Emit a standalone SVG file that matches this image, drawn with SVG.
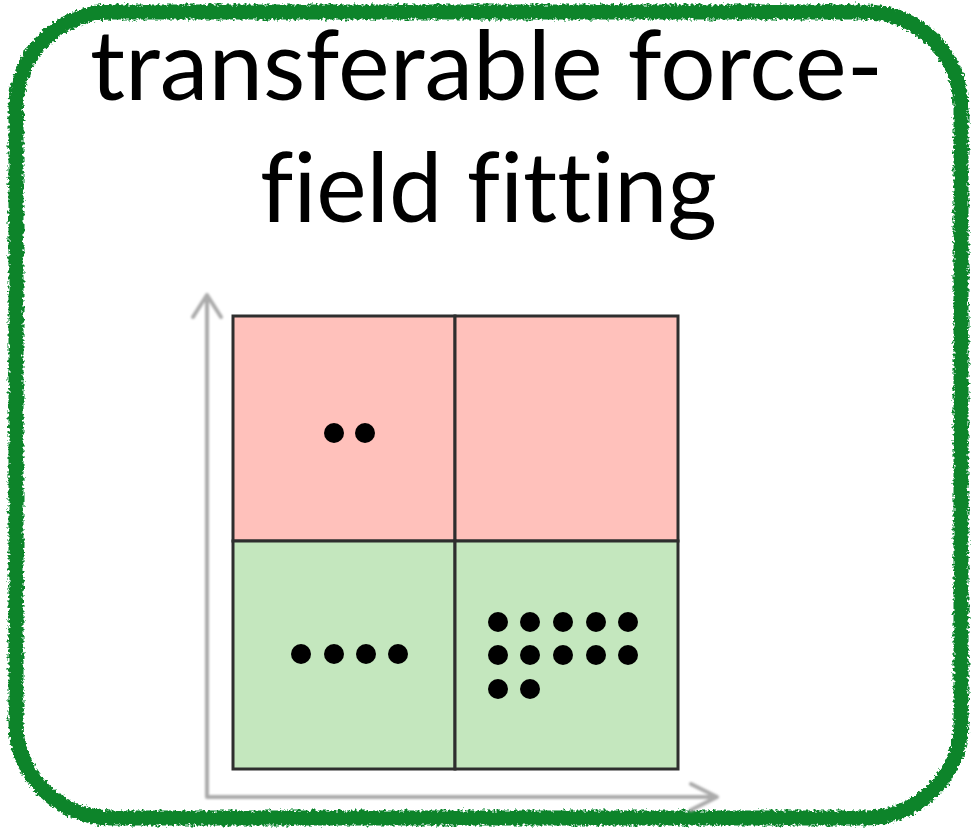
<svg xmlns="http://www.w3.org/2000/svg" width="971" height="834" viewBox="0 0 971 834">
  <defs>
    <filter id="rough" x="-5%" y="-5%" width="110%" height="110%">
      <feTurbulence type="fractalNoise" baseFrequency="0.35" numOctaves="2" seed="3" result="n"/>
      <feDisplacementMap in="SourceGraphic" in2="n" scale="7" xChannelSelector="R" yChannelSelector="G"/>
    </filter>
    <filter id="soft" x="-5%" y="-5%" width="110%" height="110%">
      <feGaussianBlur stdDeviation="0.8"/>
    </filter>
  </defs>
  <style>
    .title { font-family: "Lato", "Liberation Sans", sans-serif; font-size: 96px; fill: #000; font-variant-ligatures: none; font-feature-settings: "liga" 0, "clig" 0; }
    .axis { fill: none; stroke: #ABABAB; stroke-width: 4; stroke-linecap: round; stroke-linejoin: round; }
    .cell { stroke: #2E2E2E; stroke-width: 3; }
    .red { fill: #FFC1BB; }
    .green { fill: #C4E7BE; }
    .dot { fill: #000; }
  </style>
  <rect width="971" height="834" fill="#FFFFFF"/>
  <g id="frame">
    <rect x="16" y="12" width="945" height="806" rx="95" ry="95" fill="none" stroke="#0B842B" stroke-width="15" filter="url(#rough)"/>
  </g>
  <g id="title">
    <text class="title" x="90" y="100" textLength="793" lengthAdjust="spacingAndGlyphs">transferable force-</text>
    <text class="title" x="260" y="222" textLength="457" lengthAdjust="spacingAndGlyphs">field fitting</text>
  </g>
  <g id="axes" filter="url(#soft)">
    <polyline class="axis" points="207,297 207,797 715,797"/>
    <polyline class="axis" points="193,317 207,295 221,317"/>
    <polyline class="axis" points="691,784 717,797 691,810"/>
  </g>
  <g id="grid">
    <rect class="cell red" x="233" y="316" width="222" height="225"/>
    <rect class="cell red" x="455" y="316" width="223" height="225"/>
    <rect class="cell green" x="233" y="541" width="222" height="228"/>
    <rect class="cell green" x="455" y="541" width="223" height="228"/>
  </g>
  <g id="dots-top-left">
    <circle class="dot" cx="334" cy="433" r="10"/>
    <circle class="dot" cx="365" cy="433" r="10"/>
  </g>
  <g id="dots-bottom-left">
    <circle class="dot" cx="301" cy="654" r="10"/>
    <circle class="dot" cx="334" cy="654" r="10"/>
    <circle class="dot" cx="366" cy="654" r="10"/>
    <circle class="dot" cx="398" cy="654" r="10"/>
  </g>
  <g id="dots-bottom-right">
    <circle class="dot" cx="498" cy="622" r="10"/>
    <circle class="dot" cx="530" cy="622" r="10"/>
    <circle class="dot" cx="563" cy="622" r="10"/>
    <circle class="dot" cx="596" cy="622" r="10"/>
    <circle class="dot" cx="628" cy="622" r="10"/>
    <circle class="dot" cx="498" cy="655" r="10"/>
    <circle class="dot" cx="530" cy="655" r="10"/>
    <circle class="dot" cx="563" cy="655" r="10"/>
    <circle class="dot" cx="596" cy="655" r="10"/>
    <circle class="dot" cx="628" cy="655" r="10"/>
    <circle class="dot" cx="498" cy="689" r="10"/>
    <circle class="dot" cx="530" cy="689" r="10"/>
  </g>
</svg>
